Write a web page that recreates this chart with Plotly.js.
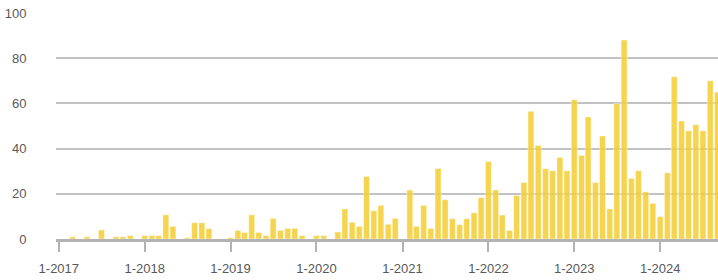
<!DOCTYPE html>
<html>
<head>
<meta charset="utf-8">
<script src="https://cdn.plot.ly/plotly-3.0.1.min.js"></script>
<style>
html,body{margin:0;padding:0;background:#fff;}
#chart{width:718px;height:280px;}
</style>
</head>
<body>
<div id="chart"></div>
<script>
// Monthly values, Jan 2017 .. Sep 2024
const startYear = 2017;
const values2017 = [0, 0, 1, 0, 1, 0, 4, 0, 1, 1, 1.5, 0];
const values2018 = [1.5, 1.5, 1.5, 10.7, 5.6, 0, 0.6, 7.2, 7.2, 4.6, 0, 0];
const values2019 = [0.6, 3.8, 2.9, 10.7, 2.9, 1.5, 9.1, 3.8, 4.7, 4.7, 1.5, 0];
const values2020 = [1.5, 1.5, 0, 3.1, 13.3, 7.4, 5.6, 27.7, 12.5, 14.9, 6.5, 9.1];
const values2021 = [0, 21.7, 5.6, 14.9, 4.7, 31.2, 17.4, 9.0, 6.3, 9.0, 11.6, 18.3];
const values2022 = [34.3, 21.7, 10.6, 3.8, 19.2, 25, 56.5, 41.4, 31.1, 30.2, 36.1, 30.2];
const values2023 = [61.6, 37, 54, 25, 45.6, 13.3, 59.9, 88, 26.8, 30.2, 20.9, 15.8];
const values2024 = [9.9, 29.3, 71.8, 52.2, 47.9, 50.6, 47.9, 70, 65];

const values = [].concat(values2017, values2018, values2019, values2020,
                         values2021, values2022, values2023, values2024);
const months = values.map((v, i) => {
  const y = startYear + Math.floor(i / 12);
  const m = (i % 12) + 1;
  return y + '-' + (m < 10 ? '0' + m : m) + '-01';
});
const yTicks = [0, 20, 40, 60, 80, 100];

const trace = {
  type: 'bar',
  x: months,
  y: values,
  marker: {
    color: 'rgba(243,206,50,0.86)',
    line: {color: 'rgba(255,255,255,0.7)', width: 0.6}
  },
  hoverinfo: 'x+y'
};

const layout = {
  width: 718,
  height: 280,
  margin: {l: 56, r: 0, t: 13, b: 41, pad: 0},
  paper_bgcolor: '#fff',
  plot_bgcolor: '#fff',
  bargap: 0.1,
  showlegend: false,
  font: {family: 'Liberation Sans, Arial, sans-serif', size: 13, color: '#585858'},
  xaxis: {
    type: 'date',
    range: ['2016-12-20', '2024-09-03'],
    tick0: '2017-01-01',
    dtick: 'M12',
    tickformat: '%-m-%Y',
    showgrid: false,
    showline: true,
    linecolor: '#b3b3b3',
    linewidth: 2.5,
    ticks: 'outside',
    ticklen: 10,
    tickwidth: 2,
    tickcolor: '#b3b3b3',
    ticklabelstandoff: 6,
    tickfont: {size: 13, color: '#585858'},
    zeroline: false,
    fixedrange: true
  },
  yaxis: {
    range: [0, 100],
    tickvals: yTicks,
    showgrid: true,
    gridcolor: '#c2c2c2',
    gridwidth: 2,
    zeroline: false,
    showline: false,
    ticks: 'outside',
    ticklen: 26,
    tickcolor: 'rgba(0,0,0,0)',
    tickfont: {size: 13, color: '#585858'},
    fixedrange: true
  }
};

Plotly.newPlot('chart', [trace], layout, {displayModeBar: false, staticPlot: true});
</script>
</body>
</html>
